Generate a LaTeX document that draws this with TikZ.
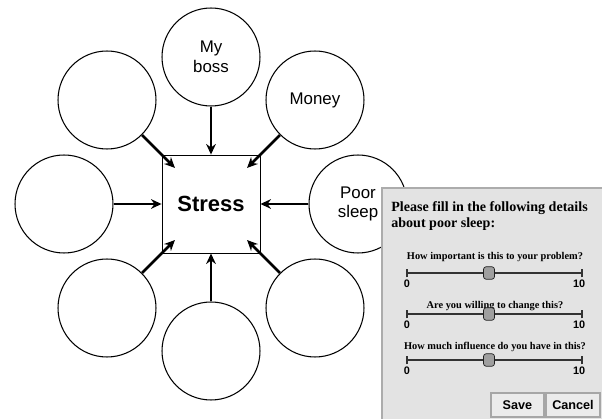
\documentclass[tikz,border=0pt]{standalone}
\usepackage{fontspec}
\setmainfont{Liberation Sans}
\newfontfamily\panelfont{Liberation Serif}
\usetikzlibrary{arrows.meta,positioning}

\begin{document}
\begin{tikzpicture}[x=0.02cm, y=0.02cm,
    bubble/.style={circle, draw, line width=0.6pt, minimum size=1.96cm, inner sep=0pt, align=center, font=\fontsize{9.6}{11.3}\selectfont},
    stressbox/.style={rectangle, draw, line width=0.5pt, minimum size=1.96cm, font=\fontsize{12.5}{14}\selectfont\bfseries},
    cause/.style={-{Stealth[length=6pt,width=5.5pt]}, line width=1.5pt},
    question/.style={inner sep=0pt, font=\panelfont\bfseries\fontsize{5.9}{6}\selectfont},
    scale label/.style={inner sep=0pt, font=\bfseries\fontsize{6.2}{6}\selectfont},
    slider/.style={draw=gray!40!black, line width=1.3pt},
    thumb/.style={rectangle, rounded corners=1.5pt, fill=gray!75, draw=gray!25!black, line width=0.4pt, minimum width=0.22cm, minimum height=0.25cm, inner sep=0pt},
    button/.style={rectangle, draw=gray!70, fill=gray!16, line width=0.8pt, minimum height=0.48cm, inner sep=0pt, font=\bfseries\fontsize{7.2}{8}\selectfont}]
    \useasboundingbox (0,0) rectangle (602,419);

    % the map
    \node (stress) [stressbox] at (211,215) {Stress};
    \node (boss) [bubble] at (211,362) {My\\boss};
    \node (money) [bubble] at (315,319) {Money};
    \node (sleep) [bubble] at (358,215) {Poor\\sleep};
    \node (lowright) [bubble] at (315,111) {};
    \node (low) [bubble] at (211,68) {};
    \node (lowleft) [bubble] at (107,111) {};
    \node (left) [bubble] at (64,215) {};
    \node (upleft) [bubble] at (107,319) {};

    \path [cause]
        (boss) edge (stress)
        (money) edge [shorten >=1.02cm] (stress.center)
        (sleep) edge (stress)
        (lowright) edge [shorten >=1.02cm] (stress.center)
        (low) edge (stress)
        (lowleft) edge [shorten >=1.02cm] (stress.center)
        (left) edge (stress)
        (upleft) edge [shorten >=1.02cm] (stress.center);

    % details dialog
    \draw [draw=gray!65, fill=gray!22, line width=0.8pt] (382,-5) rectangle (610,231);
    \node (title) [anchor=west, align=left, inner sep=0pt, font=\panelfont\bfseries\fontsize{8}{9.6}\selectfont] at (391,203) {Please fill in the following details\\about poor sleep:};

    \foreach \n/\ly/\qy/\q in {a/146/162/How important is this to your problem?,
                               b/105/113/Are you willing to change this?,
                               c/59/72/How much influence do you have in this?} {
        \node (q\n) [question] at (495,\qy) {\q};
        \coordinate (lo\n) at (407,\ly);
        \coordinate (hi\n) at (582,\ly);
        \draw [slider] (lo\n) -- (hi\n);
        \draw [gray!40!black, line width=0.6pt] ([yshift=-2.5pt]lo\n) -- ([yshift=2.5pt]lo\n);
        \draw [gray!40!black, line width=0.6pt] ([yshift=-2.5pt]hi\n) -- ([yshift=2.5pt]hi\n);
        \node (th\n) [thumb] at (489,\ly) {};
        \node (zero\n) [scale label, below=3.5pt of lo\n] {0};
        \node (ten\n) [scale label, below=3.5pt of hi\n, anchor=north east, xshift=2pt] {10};
    }

    \node (save) [button, minimum width=1.06cm] at (517.5,14) {Save};
    \node (cancel) [button, minimum width=1.08cm] at (573,14) {Cancel};
\end{tikzpicture}
\end{document}
